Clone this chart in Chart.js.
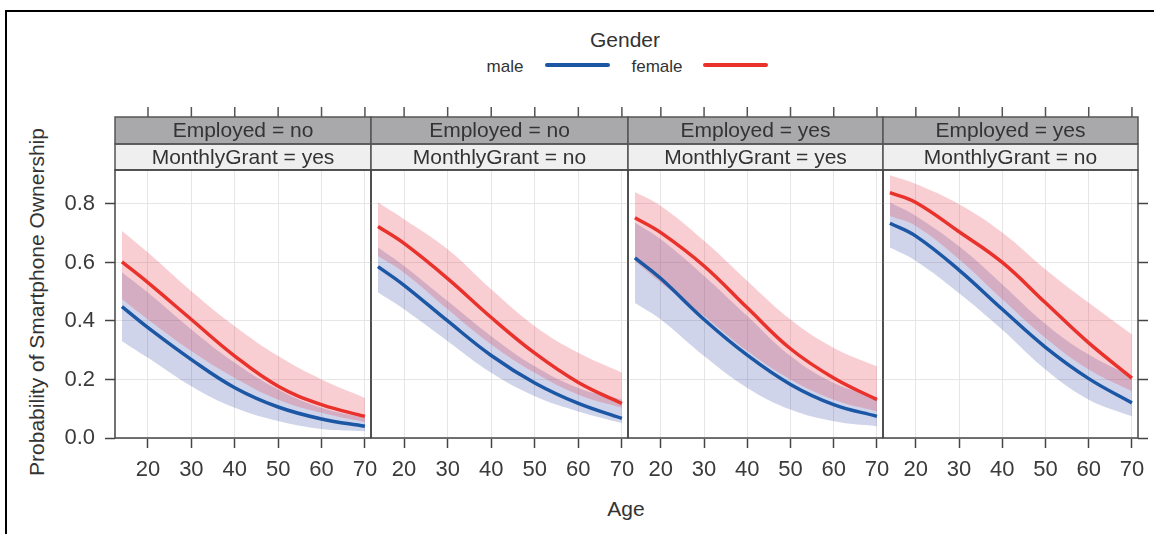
<!DOCTYPE html>
<html>
<head>
<meta charset="utf-8">
<script src="https://cdn.jsdelivr.net/npm/chart.js@4.4.0/dist/chart.umd.min.js"></script>
<style>
  body { margin: 0; background: #fff; }
  #wrap { position: relative; width: 1154px; height: 534px; overflow: hidden; font-family: "Liberation Sans", Arial, sans-serif; color: #333; }
  #wrap canvas { position: absolute; }
  .frame { position: absolute; left: 5px; top: 10px; width: 1200px; height: 600px; border-top: 2px solid #000; border-left: 2px solid #000; }
  .txt { position: absolute; white-space: nowrap; transform: translate(-50%, -50%); }
  .swatch { position: absolute; height: 4px; border-radius: 2px; }
</style>
</head>
<body>
<div id="wrap">
  <div class="frame"></div>
  <div class="txt" style="left:625px; top:40px; font-size:21px;">Gender</div>
  <div class="txt" style="left:505px; top:67px; font-size:17px;">male</div>
  <div class="swatch" style="left:545px; top:63px; width:65px; background:#1c57a5;"></div>
  <div class="txt" style="left:657px; top:67px; font-size:17px;">female</div>
  <div class="swatch" style="left:703px; top:63px; width:65px; background:#e8322b;"></div>
  <div class="txt" style="left:37px; top:302px; font-size:21px; transform: translate(-50%, -50%) rotate(-90deg);">Probability of Smartphone Ownership</div>
  <div class="txt" style="left:626px; top:509px; font-size:21px;">Age</div>
</div>
<script>
const ages = [14, 20, 30, 40, 50, 60, 70];
const xTicks = [20, 30, 40, 50, 60, 70];
const yTicks = [0, 0.2, 0.4, 0.6, 0.8];

const employedLabels = ['Employed = no', 'Employed = no', 'Employed = yes', 'Employed = yes'];
const grantLabels = ['MonthlyGrant = yes', 'MonthlyGrant = no', 'MonthlyGrant = yes', 'MonthlyGrant = no'];

// panel 1 : employed no, grant yes
const p1FemaleFit = [0.602, 0.531, 0.405, 0.280, 0.177, 0.114, 0.074];
const p1FemaleHigh = [0.708, 0.634, 0.502, 0.382, 0.280, 0.200, 0.137];
const p1FemaleLow = [0.474, 0.405, 0.297, 0.205, 0.131, 0.086, 0.054];
const p1MaleFit = [0.449, 0.377, 0.268, 0.172, 0.106, 0.065, 0.040];
const p1MaleHigh = [0.567, 0.497, 0.371, 0.257, 0.166, 0.103, 0.068];
const p1MaleLow = [0.331, 0.274, 0.177, 0.103, 0.058, 0.031, 0.023];

// panel 2 : employed no, grant no
const p2FemaleFit = [0.723, 0.665, 0.545, 0.412, 0.290, 0.190, 0.118];
const p2FemaleHigh = [0.805, 0.748, 0.645, 0.508, 0.382, 0.291, 0.223];
const p2FemaleLow = [0.622, 0.565, 0.440, 0.320, 0.223, 0.148, 0.103];
const p2MaleFit = [0.586, 0.522, 0.400, 0.282, 0.188, 0.118, 0.067];
const p2MaleHigh = [0.651, 0.588, 0.468, 0.348, 0.245, 0.171, 0.131];
const p2MaleLow = [0.497, 0.440, 0.331, 0.223, 0.143, 0.091, 0.051];

// panel 3 : employed yes, grant yes
const p3FemaleFit = [0.753, 0.702, 0.588, 0.445, 0.305, 0.205, 0.131];
const p3FemaleHigh = [0.841, 0.793, 0.674, 0.537, 0.405, 0.308, 0.245];
const p3FemaleLow = [0.605, 0.531, 0.417, 0.297, 0.200, 0.131, 0.091];
const p3MaleFit = [0.616, 0.545, 0.405, 0.283, 0.183, 0.114, 0.074];
const p3MaleHigh = [0.736, 0.679, 0.554, 0.417, 0.280, 0.188, 0.140];
const p3MaleLow = [0.462, 0.405, 0.280, 0.171, 0.097, 0.057, 0.040];

// panel 4 : employed yes, grant no
const p4FemaleFit = [0.839, 0.805, 0.705, 0.600, 0.462, 0.325, 0.205];
const p4FemaleHigh = [0.898, 0.868, 0.799, 0.702, 0.576, 0.462, 0.354];
const p4FemaleLow = [0.759, 0.725, 0.611, 0.474, 0.342, 0.234, 0.160];
const p4MaleFit = [0.734, 0.690, 0.574, 0.440, 0.310, 0.203, 0.120];
const p4MaleHigh = [0.805, 0.759, 0.655, 0.525, 0.390, 0.285, 0.210];
const p4MaleLow = [0.651, 0.605, 0.495, 0.370, 0.234, 0.131, 0.074];

const femaleFits = [p1FemaleFit, p2FemaleFit, p3FemaleFit, p4FemaleFit];
const femaleHighs = [p1FemaleHigh, p2FemaleHigh, p3FemaleHigh, p4FemaleHigh];
const femaleLows = [p1FemaleLow, p2FemaleLow, p3FemaleLow, p4FemaleLow];
const maleFits = [p1MaleFit, p2MaleFit, p3MaleFit, p4MaleFit];
const maleHighs = [p1MaleHigh, p2MaleHigh, p3MaleHigh, p4MaleHigh];
const maleLows = [p1MaleLow, p2MaleLow, p3MaleLow, p4MaleLow];

const RED = '#e8322b';
const BLUE = '#1c57a5';
const PINK = 'rgba(225,50,70,0.24)';
const LAVENDER = 'rgba(40,60,160,0.22)';
const FONT = '"Liberation Sans", Arial, sans-serif';

const panelEdges = [115, 371, 628, 883, 1138];
const wrap = document.getElementById('wrap');

const pts = arr => arr.map((v, i) => ({ x: ages[i], y: v }));

// strips + top ticks + panel box
const latticePlugin = {
  id: 'lattice',
  afterDraw(chart, args, opts) {
    const ctx = chart.ctx;
    const a = chart.chartArea;
    const w = a.right - a.left;
    ctx.save();
    ctx.strokeStyle = '#555';
    ctx.lineWidth = 1.5;
    // top ticks
    ctx.beginPath();
    xTicks.forEach(v => {
      const x = chart.scales.x.getPixelForValue(v);
      ctx.moveTo(x, a.top - 63);
      ctx.lineTo(x, a.top - 53);
    });
    ctx.stroke();
    // strips
    ctx.fillStyle = '#a9a9ab';
    ctx.fillRect(a.left, a.top - 53, w, 27);
    ctx.fillStyle = '#efefef';
    ctx.fillRect(a.left, a.top - 26, w, 26);
    ctx.strokeRect(a.left, a.top - 53, w, 27);
    ctx.strokeRect(a.left, a.top - 26, w, 26);
    ctx.fillStyle = '#333';
    ctx.font = '21px ' + FONT;
    ctx.textAlign = 'center';
    ctx.textBaseline = 'middle';
    ctx.fillText(opts.top, a.left + w / 2, a.top - 39);
    ctx.fillText(opts.bottom, a.left + w / 2, a.top - 12);
    // panel box
    ctx.strokeStyle = '#444';
    ctx.strokeRect(a.left, a.top, w, a.bottom - a.top);
    ctx.restore();
  }
};

for (let i = 0; i < 4; i++) {
  const leftW = i === 0 ? 70 : 0;
  const rightW = i === 3 ? 10 : 0;
  const padL = 20, padR = 20;
  const pw = panelEdges[i + 1] - panelEdges[i];
  const canvas = document.createElement('canvas');
  canvas.width = padL + leftW + pw + rightW + padR;
  canvas.height = 399;
  canvas.style.left = (panelEdges[i] - padL - leftW) + 'px';
  canvas.style.top = '96px';
  wrap.appendChild(canvas);

  new Chart(canvas, {
    type: 'line',
    data: {
      datasets: [
        { label: 'female', data: pts(femaleFits[i]), borderColor: RED, borderWidth: 3.5, fill: false },
        { label: 'male', data: pts(maleFits[i]), borderColor: BLUE, borderWidth: 3.5, fill: false },
        { label: 'femaleHigh', data: pts(femaleHighs[i]), borderColor: 'transparent', borderWidth: 0, backgroundColor: PINK, fill: '+1' },
        { label: 'femaleLow', data: pts(femaleLows[i]), borderColor: 'transparent', borderWidth: 0, fill: false },
        { label: 'maleHigh', data: pts(maleHighs[i]), borderColor: 'transparent', borderWidth: 0, backgroundColor: LAVENDER, fill: '+1' },
        { label: 'maleLow', data: pts(maleLows[i]), borderColor: 'transparent', borderWidth: 0, fill: false }
      ]
    },
    options: {
      responsive: false,
      animation: false,
      events: [],
      elements: { point: { radius: 0 }, line: { tension: 0.4, capBezierPoints: true } },
      layout: { padding: { top: 74, left: padL, right: padR, bottom: 0 } },
      plugins: {
        legend: { display: false },
        tooltip: { enabled: false },
        lattice: { top: employedLabels[i], bottom: grantLabels[i] }
      },
      scales: {
        x: {
          type: 'linear',
          min: 12.4,
          max: 71.4,
          afterBuildTicks: s => { s.ticks = xTicks.map(v => ({ value: v })); },
          afterFit: s => { s.height = 57; },
          ticks: { font: { size: 22, family: FONT }, color: '#3a3a3a', padding: 9, maxRotation: 0 },
          grid: { color: '#e6e6e6', tickColor: '#444', tickLength: 10, tickWidth: 1.5 },
          border: { display: false }
        },
        y: {
          min: 0,
          max: 0.916,
          position: i === 3 ? 'right' : 'left',
          afterBuildTicks: s => { s.ticks = yTicks.map(v => ({ value: v })); },
          afterFit: s => { s.width = i === 0 ? leftW : rightW; },
          ticks: { display: i === 0, font: { size: 22, family: FONT }, color: '#3a3a3a', padding: 10, callback: v => v.toFixed(1) },
          grid: { color: '#e6e6e6', tickColor: '#444', tickLength: 10, tickWidth: 1.5, drawTicks: i === 0 || i === 3 },
          border: { display: false }
        }
      }
    },
    plugins: [latticePlugin]
  });
}
</script>
</body>
</html>
